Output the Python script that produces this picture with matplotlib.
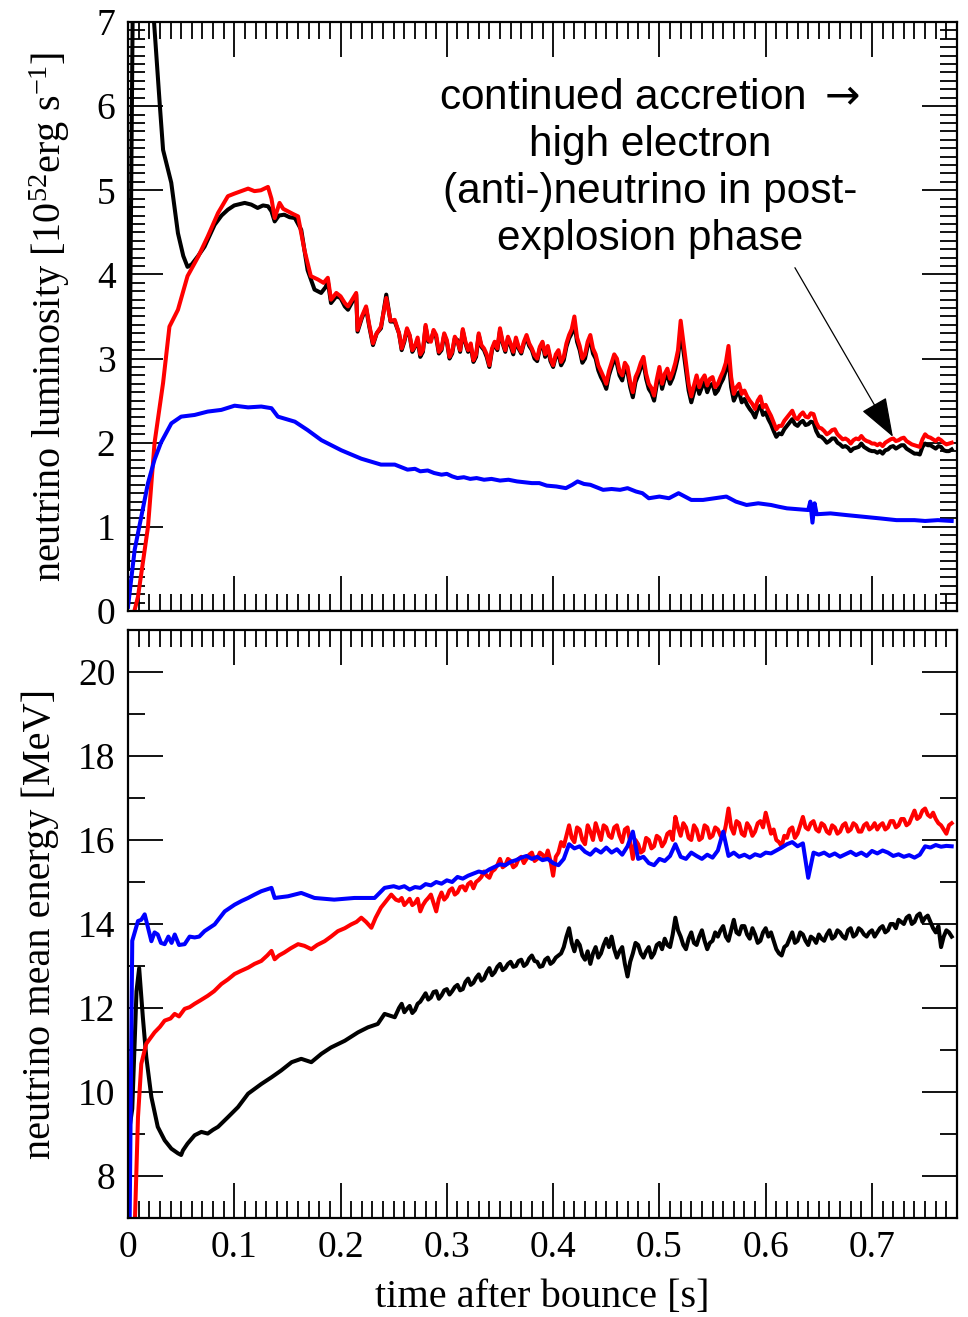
import numpy as np
import matplotlib
matplotlib.use("Agg")
import matplotlib.pyplot as plt
from matplotlib.ticker import MultipleLocator

plt.rcParams['font.family'] = ['Liberation Serif', 'DejaVu Serif']
plt.rcParams['mathtext.fontset'] = 'custom'
plt.rcParams['mathtext.rm'] = 'Liberation Serif'
plt.rcParams['mathtext.it'] = 'Liberation Serif:italic'
plt.rcParams['mathtext.bf'] = 'Liberation Serif:bold'
plt.rcParams['mathtext.sf'] = 'DejaVu Sans'

# ---------------------------------------------------------------------------
# Luminosity [10^52 erg/s] -- early phase, irregular sampling
# ---------------------------------------------------------------------------
lum_nue_t = [0.000, 0.005, 0.020, 0.0245, 0.030, 0.033, 0.0407, 0.047, 0.052,
             0.056, 0.060, 0.066, 0.072, 0.0815, 0.088, 0.094, 0.100, 0.1098,
             0.116, 0.122, 0.127, 0.1317, 0.135, 0.138, 0.142, 0.147, 0.152,
             0.157, 0.163, 0.169, 0.1755, 0.1817, 0.186, 0.188, 0.191, 0.196,
             0.200, 0.204, 0.207, 0.2147, 0.216, 0.220, 0.224, 0.227, 0.2305,
             0.234, 0.238, 0.243, 0.247, 0.251]
lum_nue_v = [0.5, 8.0, 7.6, 7.0, 6.0, 5.48, 5.09, 4.49, 4.22,
             4.09, 4.12, 4.22, 4.33, 4.59, 4.70, 4.77, 4.82, 4.85,
             4.83, 4.79, 4.82, 4.81, 4.75, 4.63, 4.70, 4.71, 4.68,
             4.67, 4.53, 4.05, 3.82, 3.78, 3.85, 3.92, 3.66, 3.74,
             3.72, 3.62, 3.58, 3.76, 3.32, 3.48, 3.60, 3.38, 3.16,
             3.30, 3.36, 3.76, 3.44, 3.44]

lum_anue_t = [0.006, 0.0094, 0.0188, 0.025, 0.033, 0.039, 0.047, 0.056, 0.066,
              0.075, 0.0847, 0.094, 0.100, 0.1066, 0.113, 0.119, 0.125, 0.1317,
              0.135, 0.138, 0.1426, 0.146, 0.1505, 0.155, 0.160, 0.166, 0.172,
              0.1787, 0.184, 0.188, 0.191, 0.196, 0.200, 0.204, 0.207, 0.2147,
              0.216, 0.220, 0.224, 0.227, 0.2305, 0.234, 0.238, 0.243, 0.247,
              0.251]
lum_anue_v = [0.0, 0.17, 1.0, 2.0, 2.71, 3.38, 3.58, 3.98, 4.21,
              4.45, 4.73, 4.93, 4.96, 4.99, 5.02, 4.99, 5.00, 5.04,
              4.90, 4.67, 4.85, 4.78, 4.75, 4.72, 4.69, 4.29, 3.98,
              3.94, 3.90, 3.96, 3.70, 3.78, 3.74, 3.66, 3.62, 3.78,
              3.34, 3.50, 3.62, 3.40, 3.18, 3.30, 3.38, 3.72, 3.45,
              3.46]

lum_nux_t = [0.000, 0.0063, 0.0125, 0.0188, 0.025, 0.031, 0.0408, 0.050, 0.0627,
             0.075, 0.0878, 0.1003, 0.113, 0.1254, 0.135, 0.141, 0.157, 0.169,
             0.182, 0.2007, 0.2195, 0.238, 0.251, 0.263, 0.270, 0.275, 0.282,
             0.288, 0.295, 0.300, 0.305, 0.310, 0.316, 0.322, 0.328, 0.335,
             0.342, 0.350, 0.358, 0.366, 0.373, 0.380, 0.387, 0.394, 0.403,
             0.412, 0.418, 0.423, 0.429, 0.435, 0.441, 0.447, 0.455, 0.463,
             0.470, 0.478, 0.484, 0.490, 0.500, 0.509, 0.518, 0.530, 0.541,
             0.552, 0.563, 0.572, 0.582, 0.593, 0.605, 0.612, 0.620, 0.630,
             0.640, 0.642, 0.644, 0.646, 0.648, 0.661, 0.676, 0.692, 0.708,
             0.723, 0.740, 0.750, 0.762, 0.775]
lum_nux_v = [0.05, 0.73, 1.12, 1.52, 1.80, 2.00, 2.23, 2.31, 2.33,
             2.37, 2.39, 2.44, 2.42, 2.43, 2.41, 2.31, 2.25, 2.15,
             2.03, 1.91, 1.81, 1.74, 1.74, 1.68, 1.69, 1.66, 1.67,
             1.64, 1.62, 1.63, 1.60, 1.58, 1.59, 1.57, 1.58, 1.56,
             1.57, 1.55, 1.56, 1.54, 1.53, 1.52, 1.52, 1.49, 1.48,
             1.46, 1.50, 1.54, 1.51, 1.50, 1.47, 1.44, 1.45, 1.44,
             1.46, 1.42, 1.40, 1.34, 1.36, 1.34, 1.40, 1.32, 1.32,
             1.34, 1.36, 1.30, 1.26, 1.28, 1.26, 1.24, 1.22, 1.21,
             1.20, 1.30, 1.05, 1.28, 1.15, 1.16, 1.14, 1.12, 1.10,
             1.08, 1.08, 1.07, 1.08, 1.07]

# Later phase: samples every 5 ms from 255 ms, plus the in-between samples
# (257.5 ms, 262.5 ms, ...) in the *_mid lists.
TAIL_T0 = 0.255
TAIL_DT = 0.005

lum_nue_tail = [
    3.30, 3.20, 3.27, 3.14, 3.02, 3.38, 3.22, 3.25, 3.10, 3.20,
    3.06, 3.22, 3.33, 3.08, 2.96, 3.28, 3.10, 2.90, 3.18, 3.33,
    3.08, 3.15, 3.22, 3.06, 3.25, 3.10, 2.97, 3.17, 3.12, 2.90,
    3.06, 2.98, 3.24, 3.42, 3.10, 3.00, 3.22, 3.00, 2.78, 2.64,
    2.90, 2.94, 2.74, 2.84, 2.54, 2.80, 2.96, 2.64, 2.50, 2.84,
    2.76, 2.70, 2.88, 3.30, 2.86, 2.48, 2.72, 2.66, 2.60, 2.70,
    2.62, 2.76, 3.00, 2.50, 2.60, 2.52, 2.40, 2.30, 2.44, 2.36,
    2.22, 2.07, 2.10, 2.20, 2.28, 2.20, 2.26, 2.22, 2.24, 2.08,
    2.04, 2.02, 2.05, 1.98, 1.96, 1.90, 1.94, 1.99, 1.93, 1.90,
    1.88, 1.87, 1.92, 1.96, 1.95, 1.97, 1.91, 1.87, 1.86, 1.99,
    1.97, 1.93, 1.95, 1.90, 1.92]
lum_nue_mid = [
    3.10, 3.34, 3.08, 3.22, 3.08, 3.20, 3.32, 3.06, 3.28, 3.00,
    3.24, 3.08, 3.18, 3.15, 3.02, 3.14, 3.02, 3.10, 3.10, 3.18,
    3.24, 3.05, 3.12, 3.18, 3.15, 3.00, 3.12, 3.02, 2.97, 3.02,
    2.92, 3.14, 3.30, 3.20, 2.95, 3.15, 3.06, 2.86, 2.72, 2.80,
    2.99, 2.80, 2.89, 2.66, 2.72, 2.89, 2.76, 2.59, 2.69, 2.64,
    2.80, 2.77, 3.02, 3.10, 2.62, 2.60, 2.58, 2.72, 2.68, 2.58,
    2.70, 2.86, 2.66, 2.57, 2.48, 2.45, 2.36, 2.40, 2.33, 2.28,
    2.14, 2.11, 2.16, 2.24, 2.22, 2.24, 2.21, 2.25, 2.14, 2.07,
    2.00, 2.05, 2.00, 1.95, 1.94, 1.93, 1.95, 1.95, 1.91, 1.90,
    1.90, 1.91, 1.95, 1.93, 1.97, 1.93, 1.89, 1.87, 1.95, 1.97,
    1.95, 1.96, 1.91, 1.90]

lum_anue_tail = [
    3.30, 3.22, 3.28, 3.15, 3.05, 3.40, 3.20, 3.28, 3.12, 3.22,
    3.08, 3.20, 3.35, 3.10, 2.98, 3.30, 3.12, 2.92, 3.20, 3.36,
    3.10, 3.18, 3.25, 3.08, 3.28, 3.12, 3.00, 3.20, 3.15, 2.92,
    3.10, 3.02, 3.28, 3.50, 3.15, 3.05, 3.28, 3.05, 2.85, 2.70,
    2.95, 3.00, 2.80, 2.90, 2.60, 2.85, 3.02, 2.70, 2.56, 2.90,
    2.82, 2.76, 2.95, 3.45, 2.95, 2.55, 2.80, 2.75, 2.68, 2.78,
    2.70, 2.85, 3.15, 2.58, 2.70, 2.62, 2.50, 2.40, 2.55, 2.45,
    2.32, 2.16, 2.20, 2.30, 2.38, 2.28, 2.36, 2.30, 2.34, 2.18,
    2.14, 2.12, 2.16, 2.07, 2.05, 1.99, 2.05, 2.08, 2.02, 1.99,
    1.97, 1.96, 2.02, 2.05, 2.03, 2.06, 2.00, 1.97, 1.95, 2.10,
    2.06, 2.02, 2.03, 1.98, 2.00]
lum_anue_mid = [
    3.12, 3.36, 3.10, 3.25, 3.10, 3.22, 3.34, 3.08, 3.30, 3.02,
    3.26, 3.10, 3.20, 3.18, 3.05, 3.16, 3.05, 3.12, 3.12, 3.20,
    3.26, 3.08, 3.14, 3.20, 3.18, 3.04, 3.14, 3.05, 3.00, 3.05,
    2.96, 3.18, 3.35, 3.25, 3.00, 3.20, 3.12, 2.92, 2.78, 2.85,
    3.05, 2.85, 2.95, 2.72, 2.78, 2.95, 2.82, 2.65, 2.75, 2.70,
    2.88, 2.84, 3.10, 3.20, 2.70, 2.68, 2.66, 2.80, 2.76, 2.66,
    2.78, 2.95, 2.78, 2.66, 2.58, 2.55, 2.46, 2.50, 2.42, 2.38,
    2.24, 2.20, 2.26, 2.34, 2.30, 2.33, 2.31, 2.35, 2.24, 2.17,
    2.10, 2.15, 2.10, 2.04, 2.03, 2.03, 2.04, 2.04, 2.01, 1.99,
    1.99, 2.00, 2.04, 2.02, 2.05, 2.02, 1.98, 1.96, 2.04, 2.07,
    2.04, 2.05, 2.00, 1.99]

# ---------------------------------------------------------------------------
# Mean energy [MeV] -- early phase
# ---------------------------------------------------------------------------
en_nue_t = [0.000, 0.004, 0.008, 0.0105, 0.014, 0.0172, 0.022, 0.028, 0.0345,
            0.0408, 0.047, 0.050, 0.0517, 0.056, 0.0627, 0.069, 0.075, 0.080,
            0.0847, 0.094, 0.1035, 0.113, 0.1254, 0.135, 0.144, 0.154, 0.163,
            0.1725, 0.182, 0.191, 0.204, 0.2164, 0.2258, 0.235, 0.2414, 0.251]
en_nue_v = [8.9, 9.6, 12.4, 12.95, 11.77, 10.83, 9.88, 9.17, 8.85,
            8.65, 8.54, 8.50, 8.61, 8.77, 8.97, 9.05, 9.01, 9.10,
            9.17, 9.40, 9.64, 9.96, 10.19, 10.35, 10.51, 10.71, 10.79,
            10.71, 10.91, 11.06, 11.22, 11.42, 11.54, 11.62, 11.86, 11.78]

en_anue_t = [0.006, 0.0094, 0.0125, 0.0172, 0.025, 0.030, 0.0345, 0.040, 0.0439,
             0.048, 0.0533, 0.058, 0.0627, 0.068, 0.075, 0.081, 0.0878, 0.094,
             0.1003, 0.106, 0.113, 0.119, 0.1254, 0.131, 0.135, 0.138, 0.142,
             0.147, 0.153, 0.160, 0.166, 0.1725, 0.178, 0.185, 0.191, 0.1975,
             0.204, 0.210, 0.215, 0.2195, 0.224, 0.229, 0.233, 0.238, 0.243,
             0.2477, 0.252]
en_anue_v = [6.5, 9.40, 10.67, 11.15, 11.42, 11.55, 11.70, 11.75, 11.86,
             11.80, 11.98, 12.02, 12.10, 12.18, 12.29, 12.40, 12.57, 12.68,
             12.81, 12.88, 12.96, 13.05, 13.12, 13.25, 13.36, 13.16, 13.25,
             13.32, 13.42, 13.52, 13.48, 13.40, 13.50, 13.59, 13.70, 13.83,
             13.90, 13.99, 14.05, 14.15, 14.05, 13.91, 14.15, 14.39, 14.55,
             14.70, 14.58]

en_nux_t = [0.0015, 0.004, 0.0094, 0.0125, 0.0157, 0.019, 0.022, 0.025, 0.028,
            0.031, 0.0345, 0.038, 0.041, 0.044, 0.048, 0.0533, 0.058, 0.0627,
            0.067, 0.072, 0.0815, 0.091, 0.1003, 0.107, 0.113, 0.119, 0.1254,
            0.135, 0.138, 0.1505, 0.163, 0.1755, 0.194, 0.213, 0.232, 0.2414,
            0.250]
en_nux_v = [6.8, 13.6, 14.07, 14.10, 14.23, 13.90, 13.59, 13.80, 13.75,
            13.55, 13.52, 13.70, 13.55, 13.75, 13.50, 13.52, 13.70, 13.68,
            13.70, 13.83, 13.99, 14.30, 14.46, 14.55, 14.62, 14.70, 14.78,
            14.86, 14.62, 14.66, 14.74, 14.62, 14.58, 14.62, 14.62, 14.86,
            14.90]

en_nue_tail = [
    12.00, 11.90, 12.05, 11.95, 12.15, 12.35, 12.25, 12.40, 12.30, 12.45,
    12.40, 12.55, 12.45, 12.70, 12.60, 12.80, 12.70, 12.95, 12.85, 13.05,
    12.95, 13.10, 13.00, 13.15, 13.05, 13.25, 13.10, 13.00, 13.20, 13.10,
    13.25, 13.45, 13.90, 13.35, 13.50, 13.15, 13.05, 13.45, 13.30, 13.65,
    13.70, 13.20, 13.45, 12.75, 13.30, 13.50, 13.20, 13.45, 13.30, 13.55,
    13.65, 13.45, 14.15, 13.70, 13.40, 13.80, 13.50, 13.85, 13.40, 13.60,
    13.70, 13.95, 13.60, 14.10, 13.75, 13.95, 13.65, 13.75, 13.60, 13.90,
    13.80, 13.40, 13.25, 13.50, 13.80, 13.60, 13.75, 13.50, 13.65, 13.75,
    13.60, 13.85, 13.70, 13.80, 13.65, 13.90, 13.75, 13.85, 13.70, 13.85,
    13.80, 13.95, 13.85, 14.00, 14.10, 14.00, 14.20, 14.05, 14.25, 14.15,
    14.05, 13.80, 13.45, 13.85, 13.70]
en_nue_mid = [
    12.10, 11.98, 11.88, 12.10, 12.25, 12.20, 12.38, 12.22, 12.42, 12.32,
    12.50, 12.42, 12.62, 12.55, 12.72, 12.65, 12.85, 12.78, 12.98, 12.90,
    13.05, 12.98, 13.12, 13.00, 13.18, 13.12, 12.98, 13.15, 13.05, 13.20,
    13.30, 13.70, 13.55, 13.60, 13.25, 13.35, 13.30, 13.20, 13.50, 13.45,
    13.40, 13.35, 13.05, 13.10, 13.55, 13.30, 13.35, 13.20, 13.50, 13.40,
    13.50, 13.75, 13.85, 13.50, 13.65, 13.55, 13.70, 13.60, 13.55, 13.80,
    13.85, 13.70, 13.85, 13.80, 13.95, 13.75, 13.90, 13.55, 13.80, 13.70,
    13.60, 13.30, 13.45, 13.65, 13.55, 13.80, 13.60, 13.70, 13.55, 13.65,
    13.75, 13.65, 13.85, 13.70, 13.85, 13.70, 13.90, 13.75, 13.80, 13.70,
    13.90, 13.80, 14.00, 13.90, 14.05, 14.15, 14.00, 14.20, 14.05, 14.20,
    13.90, 13.95, 13.70, 13.80]

en_anue_tail = [
    14.55, 14.45, 14.60, 14.50, 14.30, 14.55, 14.70, 14.30, 14.75, 14.65,
    14.85, 14.75, 14.90, 14.95, 14.85, 15.05, 15.25, 15.10, 15.30, 15.55,
    15.40, 15.50, 15.40, 15.60, 15.55, 15.70, 15.55, 15.65, 15.75, 15.15,
    15.70, 15.85, 16.35, 15.95, 16.25, 15.90, 16.20, 16.40, 16.00, 16.30,
    16.05, 16.35, 15.95, 16.30, 15.55, 15.90, 15.75, 16.00, 15.85, 16.05,
    15.95, 16.20, 16.55, 16.10, 16.30, 16.00, 16.25, 16.05, 16.30, 16.10,
    16.25, 16.05, 16.75, 16.15, 16.40, 16.10, 16.30, 16.20, 16.45, 16.65,
    16.15, 16.00, 15.85, 16.05, 16.30, 16.15, 16.55, 16.25, 16.45, 16.20,
    16.35, 16.15, 16.30, 16.20, 16.40, 16.25, 16.35, 16.20, 16.40, 16.30,
    16.25, 16.40, 16.30, 16.45, 16.35, 16.50, 16.40, 16.70, 16.55, 16.75,
    16.55, 16.50, 16.35, 16.15, 16.40]
en_anue_mid = [
    14.62, 14.52, 14.45, 14.60, 14.45, 14.62, 14.50, 14.60, 14.58, 14.80,
    14.70, 14.88, 14.80, 15.00, 15.00, 15.12, 15.15, 15.25, 15.40, 15.35,
    15.55, 15.35, 15.55, 15.45, 15.65, 15.50, 15.70, 15.55, 15.50, 15.60,
    15.95, 16.10, 16.05, 16.30, 16.00, 16.35, 16.00, 16.20, 16.35, 16.10,
    16.30, 16.10, 16.25, 15.95, 16.00, 15.70, 16.05, 15.80, 16.10, 15.85,
    16.15, 16.00, 16.30, 16.40, 16.05, 16.35, 16.00, 16.35, 16.05, 16.30,
    16.10, 16.35, 16.30, 16.45, 16.15, 16.40, 16.10, 16.40, 16.30, 16.40,
    16.25, 15.95, 16.10, 16.25, 16.05, 16.35, 16.30, 16.40, 16.25, 16.40,
    16.20, 16.35, 16.15, 16.35, 16.20, 16.40, 16.20, 16.35, 16.25, 16.40,
    16.35, 16.25, 16.45, 16.30, 16.50, 16.35, 16.55, 16.50, 16.70, 16.60,
    16.65, 16.40, 16.25, 16.35]

en_nux_tail = [
    14.86, 14.90, 14.82, 14.88, 14.86, 14.95, 14.92, 15.00, 14.96, 15.04,
    15.00, 15.12, 15.08, 15.15, 15.20, 15.25, 15.22, 15.30, 15.36, 15.42,
    15.40, 15.48, 15.52, 15.58, 15.62, 15.55, 15.60, 15.52, 15.55, 15.45,
    15.40, 15.55, 15.90, 15.80, 15.85, 15.72, 15.65, 15.78, 15.70, 15.82,
    15.70, 15.78, 15.65, 15.85, 16.20, 15.55, 15.60, 15.45, 15.40, 15.55,
    15.50, 15.62, 15.90, 15.60, 15.55, 15.70, 15.62, 15.55, 15.65, 15.58,
    15.75, 16.20, 15.62, 15.70, 15.60, 15.65, 15.58, 15.66, 15.62, 15.70,
    15.68, 15.75, 15.82, 15.90, 15.95, 15.85, 15.92, 15.10, 15.70, 15.65,
    15.70, 15.62, 15.68, 15.60, 15.66, 15.72, 15.64, 15.70, 15.62, 15.74,
    15.68, 15.75, 15.70, 15.62, 15.66, 15.60, 15.64, 15.58, 15.65, 15.85,
    15.82, 15.88, 15.84, 15.86, 15.85]

ANNOTATION = ("continued accretion $\\mathsf{\\rightarrow}$\nhigh electron\n"
              "(anti-)neutrino in post-\nexplosion phase")


def join(t_early, v_early, tail, mid=None):
    """Append the 5 ms tail samples (and optional in-between samples)."""
    tail = np.asarray(tail, float)
    if mid is None:
        t_tail = TAIL_T0 + TAIL_DT * np.arange(len(tail))
        v_tail = tail
    else:
        mid = np.asarray(mid, float)
        v_tail = np.empty(len(tail) + len(mid))
        v_tail[0::2] = tail
        v_tail[1::2] = mid
        t_tail = TAIL_T0 + 0.5 * TAIL_DT * np.arange(len(v_tail))
    return (np.concatenate([t_early, t_tail]),
            np.concatenate([v_early, v_tail]))


W, H = 968, 1317
fig = plt.figure(figsize=(W / 100, H / 100), dpi=100)
ax1 = fig.add_axes([128 / W, 1 - 611 / H, 829 / W, 589 / H])
ax2 = fig.add_axes([128 / W, 1 - 1218 / H, 829 / W, 588 / H])

LW = 2.9
# luminosities
t, v = join(lum_nue_t, lum_nue_v, lum_nue_tail, lum_nue_mid)
ax1.plot(t, v, color='black', lw=LW)
t, v = join(lum_anue_t, lum_anue_v, lum_anue_tail, lum_anue_mid)
ax1.plot(t, v, color='red', lw=LW)
ax1.plot(lum_nux_t, lum_nux_v, color='blue', lw=LW)

# mean energies
t, v = join(en_nue_t, en_nue_v, en_nue_tail, en_nue_mid)
ax2.plot(t, v, color='black', lw=LW)
t, v = join(en_anue_t, en_anue_v, en_anue_tail, en_anue_mid)
ax2.plot(t, v, color='red', lw=LW)
t, v = join(en_nux_t, en_nux_v, en_nux_tail)
ax2.plot(t, v, color='blue', lw=LW)

for ax in (ax1, ax2):
    ax.set_xlim(0, 0.78)
    ax.xaxis.set_major_locator(MultipleLocator(0.1))
    ax.xaxis.set_minor_locator(MultipleLocator(0.01))
    ax.tick_params(which='both', direction='in', top=True, right=True,
                   width=1.3, labelsize=27, pad=9)
    ax.tick_params(which='major', length=25)
    ax.tick_params(which='minor', length=12.5)
    for sp in ax.spines.values():
        sp.set_linewidth(1.6)

ax1.set_ylim(0, 7)
ax1.yaxis.set_major_locator(MultipleLocator(1))
ax1.yaxis.set_minor_locator(MultipleLocator(0.1))
ax1.tick_params(labelbottom=False)

ax2.set_ylim(7, 21)
ax2.yaxis.set_major_locator(MultipleLocator(2))
ax2.yaxis.set_minor_locator(MultipleLocator(1))
ax2.set_xticks([0, 0.1, 0.2, 0.3, 0.4, 0.5, 0.6, 0.7])
ax2.set_xticklabels(['0', '0.1', '0.2', '0.3', '0.4', '0.5', '0.6', '0.7'])

ax1.set_ylabel(r'neutrino luminosity [10$^{52}$erg s$^{-1}$]', fontsize=29,
               va='center')
ax1.yaxis.set_label_coords(-0.094, 0.5)
ax2.set_ylabel('neutrino mean energy [MeV]', fontsize=29, va='center')
ax2.yaxis.set_label_coords(-0.106, 0.5)
ax2.set_xlabel('time after bounce [s]', fontsize=29, va='center')
ax2.xaxis.set_label_coords(0.5, -0.136)

ax1.text(0.491, 5.26, ANNOTATION, ha='center', va='center',
         multialignment='center', fontsize=30.5, linespacing=1.23,
         family=['Liberation Sans', 'DejaVu Sans'])
ax1.annotate('', xy=(0.7197, 2.07), xytext=(0.6275, 4.08),
             arrowprops=dict(arrowstyle='-|>,head_length=1.25,head_width=0.45',
                             mutation_scale=20, color='black', lw=0.9,
                             shrinkA=0, shrinkB=0))

fig.savefig('out.png', dpi=100)
